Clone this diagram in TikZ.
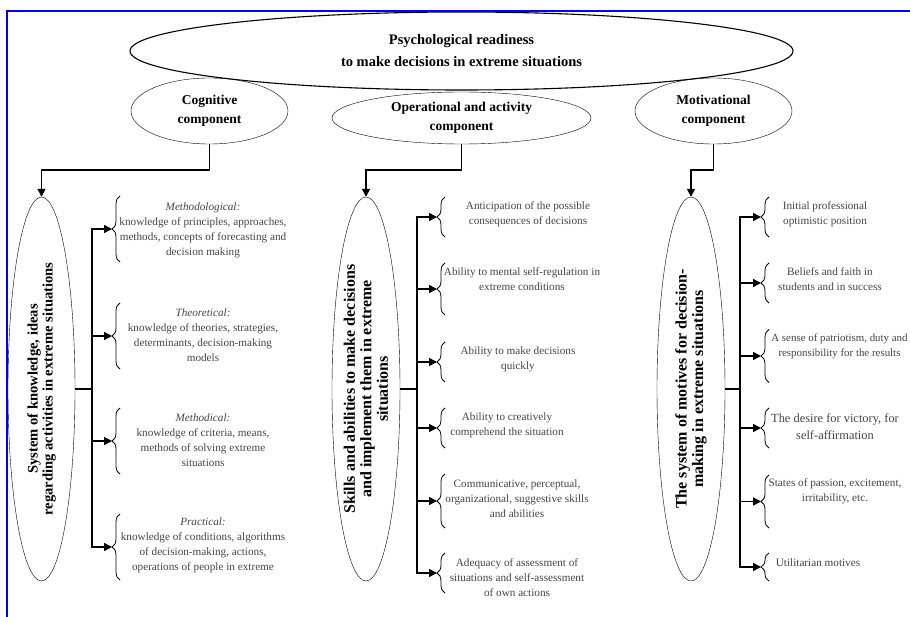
\documentclass[tikz,border=0pt]{standalone}
\usepackage{fontspec}
\setmainfont{Liberation Serif}
\usepackage{tikz}
\usetikzlibrary{shapes.geometric}
\usetikzlibrary{arrows.meta}
\usetikzlibrary{decorations.pathreplacing}
\pgfdeclarelayer{nodelayer}
\pgfdeclarelayer{edgelayer}
\pgfsetlayers{nodelayer,edgelayer,main}
\definecolor{frameblue}{RGB}{0,0,255}
\definecolor{itemgray}{RGB}{68,68,68}
\tikzset{
    oval/.style = {ellipse, draw, inner sep=0pt, align=center, font=\bfseries\fontsize{13.5}{19}\selectfont},
    bigoval/.style = {oval, line width=1.1pt, font=\bfseries\fontsize{14.5}{22}\selectfont},
    tall/.style = {oval, rotate=90, inner sep=-2pt, font=\bfseries\fontsize{16}{16.5}\selectfont},
    tallsmall/.style = {tall, font=\bfseries\fontsize{14.6}{15}\selectfont},
    item/.style = {inner sep=0pt, align=center, text=itemgray, font=\fontsize{11.2}{15}\selectfont},
    curly/.style = {decorate, decoration={brace, amplitude=8pt}, line width=0.8pt},
    link/.style = {line width=1.5pt, -{Triangle[length=8pt,width=8pt]}}
}

\begin{document}
\begin{tikzpicture}[x=1pt, y=-1pt]
  \useasboundingbox (0,0) rectangle (910,617);
  \draw [frameblue, line width=2pt] (910,11) -- (7,11) -- (7,617);
  \begin{pgfonlayer}{nodelayer}
    \node [style=bigoval, minimum width=663pt, minimum height=78pt] (ready) at (461.5, 51) {Psychological readiness\\to make decisions in extreme situations};
    \node [style=oval, minimum width=157pt, minimum height=66pt] (cog) at (209.5, 111) {Cognitive\\component};
    \node [style=oval, minimum width=259pt, minimum height=52pt] (oper) at (461.5, 118) {Operational and activity\\component};
    \node [style=oval, minimum width=157pt, minimum height=66pt] (motiv) at (713.5, 111) {Motivational\\component};
    % the three tall ovals
    \node [style=tallsmall, minimum width=384pt, minimum height=67pt] (know) at (41.5, 389) {System of knowledge, ideas\\regarding activities in extreme situations};
    \node [style=tall, minimum width=384pt, minimum height=68pt] (skill) at (366, 389) {Skills and abilities to make decisions\\and implement them in extreme\\situations};
    \node [style=tall, minimum width=384pt, minimum height=68pt] (motsys) at (691, 389) {The system of motives for decision-\\making in extreme situations};
    % cognitive items
    \node [style=item] (k1) at (203, 230) {\textit{Methodological:}\\knowledge of principles, approaches,\\methods, concepts of forecasting and\\decision making};
    \node [style=item] (k2) at (203, 335) {\textit{Theoretical:}\\knowledge of theories, strategies,\\determinants, decision-making\\models};
    \node [style=item] (k3) at (203, 440.5) {\textit{Methodical:}\\knowledge of criteria, means,\\methods of solving extreme\\situations};
    \node [style=item] (k4) at (203, 545.5) {\textit{Practical:}\\knowledge of conditions, algorithms\\of decision-making, actions,\\operations of people in extreme};
    % operational items
    \node [style=item] (s1) at (528, 214.5) {Anticipation of the possible\\consequences of decisions};
    \node [style=item] (s2) at (522, 279.5) {Ability to mental self-regulation in\\extreme conditions};
    \node [style=item] (s3) at (518, 359.5) {Ability to make decisions\\quickly};
    \node [style=item] (s4) at (507, 425.5) {Ability to creatively\\comprehend the situation};
    \node [style=item] (s5) at (517, 498.5) {Communicative, perceptual,\\organizational, suggestive skills\\and abilities};
    \node [style=item] (s6) at (517, 577.5) {Adequacy of assessment of\\situations and self-assessment\\of own actions};
    % motivational items
    \node [style=item] (m1) at (825, 214.5) {Initial professional\\optimistic position};
    \node [style=item] (m2) at (830, 279.5) {Beliefs and faith in\\students and in success};
    \node [style=item, font=\fontsize{10.9}{15}\selectfont] (m3) at (839.5, 346) {A sense of patriotism, duty and\\responsibility for the results};
    \node [style=item, font=\fontsize{12.4}{17}\selectfont] (m4) at (835, 426.5) {The desire for victory, for\\self-affirmation};
    \node [style=item] (m5) at (835, 491.5) {States of passion, excitement,\\irritability, etc.};
    \node [style=item] (m6) at (818, 563) {Utilitarian motives};
  \end{pgfonlayer}
  \begin{pgfonlayer}{edgelayer}
    % braces, with their tips
    \foreach \y/\h [count=\i] in {229/33, 336/33, 441/33, 547/33} {
      \coordinate (kb\i) at (112, \y);
      \draw [style=curly] (120, \y+\h) to (120, \y-\h);
    }
    \foreach \y/\h [count=\i] in {217/20, 289/26, 362/20, 428/20, 501/27, 573/20} {
      \coordinate (sb\i) at (437, \y);
      \draw [style=curly] (445, \y+\h) to (445, \y-\h);
    }
    \foreach \y/\h [count=\i] in {217/20, 283/20, 356/26.5, 428/20, 501.5/26.5, 567/14} {
      \coordinate (mb\i) at (761, \y);
      \draw [style=curly] (769, \y+\h) to (769, \y-\h);
    }
    % components down to the tall ovals
    \draw [style=link] (cog.south) -- ++(0, 26) -| (know.east);
    \draw [style=link] (oper.south) -- ++(0, 26) -| (skill.east);
    \draw [style=link] (motiv.south) -- ++(0, 26) -| (motsys.east);
    % trunks
    \foreach \i in {1,...,4}
      \draw [style=link] (know.south) -- ++(17, 0) |- (kb\i);
    \foreach \i in {1,...,6}
      \draw [style=link] (skill.south) -- ++(17, 0) |- (sb\i);
    \foreach \i in {1,...,6}
      \draw [style=link] (motsys.south) -- ++(15, 0) |- (mb\i);
  \end{pgfonlayer}
\end{tikzpicture}
\end{document}
